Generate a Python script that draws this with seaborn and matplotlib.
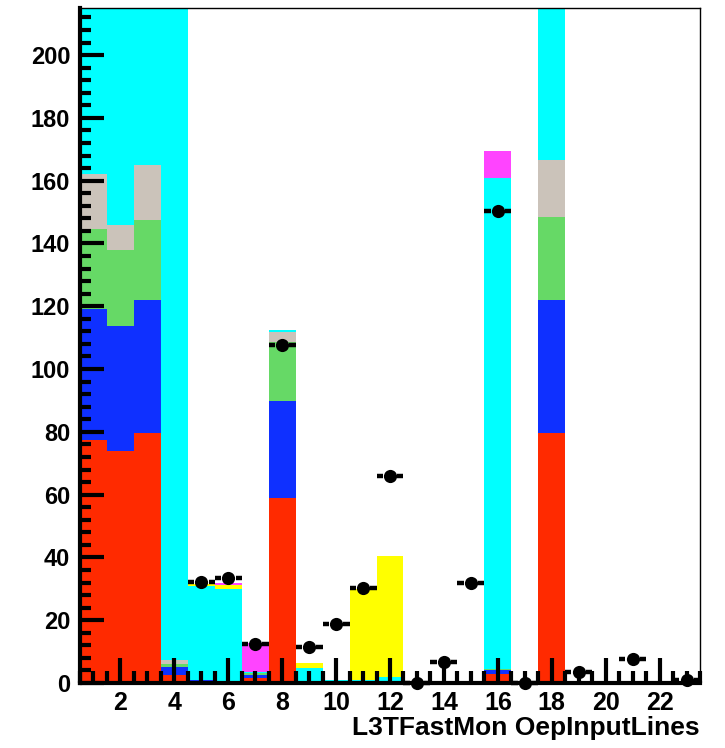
import numpy as np
import pandas as pd
import matplotlib
matplotlib.use("Agg")
import matplotlib.pyplot as plt
from matplotlib.ticker import MultipleLocator
import seaborn as sns

# ---- data (bins 1..23) ----
bins = list(range(1, 24))
red     = [77.5, 74, 79.5, 2.5, 0.3, 0, 1.5, 58.8, 0, 0, 0, 0, 0, 0, 0, 3, 0, 79.7, 0, 0, 0, 0, 0]
blue    = [41.5, 39.7, 42.5, 2.5, 0.5, 0, 1.0, 30.9, 0.3, 0, 0, 0, 0, 0, 0, 1.0, 0, 42.3, 0, 0, 0, 0, 0]
green   = [25.5, 24.3, 25.6, 1.0, 0, 0, 0.7, 18.9, 0, 0, 0, 0, 0, 0, 0, 0.5, 0, 26.3, 0, 0, 0, 0, 0]
grey    = [17.5, 8, 17.4, 1.3, 0, 0, 0, 3.1, 0, 0, 0, 0, 0, 0, 0, 0, 0, 18.2, 0, 0, 0, 0, 0]
cyan    = [140, 160, 140, 300, 30, 30, 0.3, 0.8, 4.5, 0.8, 1.0, 1.8, 0.5, 0.5, 0.5, 156.5, 0, 140, 0, 0, 0, 0, 0]
yellow  = [0, 0, 0, 0, 0.6, 1.2, 0, 0, 1.5, 0, 29, 38.5, 0, 0, 0, 0, 0.3, 0, 0, 0, 0, 0, 0]
magenta = [0, 0, 0, 0, 0, 0.8, 9.3, 0, 0, 0, 0, 0, 0, 0, 0, 8.5, 0, 0, 0, 0, 0, 0, 0]
data_pts = [np.nan, np.nan, np.nan, np.nan, 32.2, 33.5, 12.3, 107.6, 11.5, 18.7, 30.3, 66, 0, 6.7,
            31.8, 150.3, 0, np.nan, 3.5, np.nan, 7.8, np.nan, 1.0]
xticks = [2, 4, 6, 8, 10, 12, 14, 16, 18, 20, 22]
yticks = [0, 20, 40, 60, 80, 100, 120, 140, 160, 180, 200]
xlabel = "L3TFastMon OepInputLines"

components = {
    "red": red, "blue": blue, "green": green, "grey": grey,
    "cyan": cyan, "yellow": yellow, "magenta": magenta,
}
colors = {
    "red": "#ff2a00", "blue": "#0f30ff", "green": "#66d966", "grey": "#cbc3ba",
    "cyan": "#00ffff", "yellow": "#ffff00", "magenta": "#ff44ff",
}
rows = []
for name, vals in components.items():
    for b, v in zip(bins, vals):
        rows.append({"bin": b, "val": v, "comp": name})
df = pd.DataFrame(rows)

sns.set_style("white")
plt.rcParams["font.family"] = ["Liberation Sans", "DejaVu Sans"]

fig = plt.figure(figsize=(7.25, 7.48), dpi=100)
ax = fig.add_axes([80 / 725, 1 - 683 / 748, 620 / 725, 675 / 748])

sns.histplot(data=df, x="bin", weights="val", hue="comp", multiple="stack",
             discrete=True, shrink=1.0, palette=colors,
             hue_order=["magenta", "yellow", "cyan", "grey", "green", "blue", "red"],
             element="bars", linewidth=0, alpha=1.0, legend=False, ax=ax)

# data points with horizontal error bars (gap around marker)
pts = pd.DataFrame({"bin": bins, "y": data_pts}).dropna()
xb = pts["bin"].to_numpy()
yb = pts["y"].to_numpy()
ax.hlines(yb, xb - 0.5, xb - 0.27, colors="black", linewidth=3.2, zorder=5, clip_on=False)
ax.hlines(yb, xb + 0.27, xb + 0.5, colors="black", linewidth=3.2, zorder=5, clip_on=False)
sns.scatterplot(data=pts, x="bin", y="y", color="black", s=90, edgecolor="black",
                linewidth=0, zorder=6, ax=ax, clip_on=False, legend=False)

ax.set_xlim(0.5, 23.5)
ax.set_ylim(0, 215)
ax.set_xticks(xticks)
ax.set_xticklabels([str(t) for t in xticks])
ax.set_yticks(yticks)
ax.set_yticklabels([str(t) for t in yticks])
ax.xaxis.set_minor_locator(MultipleLocator(0.5))
ax.yaxis.set_minor_locator(MultipleLocator(4))
ax.set_xlabel("")
ax.set_ylabel("")
ax.set_axisbelow(False)

ax.tick_params(axis="x", which="major", direction="in", length=18, width=3,
               labelsize=18, pad=6, bottom=True, top=False, color="black",
               labelcolor="black")
ax.tick_params(axis="x", which="minor", direction="in", length=9, width=3,
               bottom=True, top=False, color="black")
ax.tick_params(axis="y", which="major", direction="in", length=17, width=3,
               labelsize=17, pad=7, left=True, right=False, color="black",
               labelcolor="black")
ax.tick_params(axis="y", which="minor", direction="in", length=8, width=3,
               left=True, right=False, color="black")
for lab in ax.get_xticklabels() + ax.get_yticklabels():
    lab.set_fontweight("bold")

for side in ["left", "bottom"]:
    ax.spines[side].set_linewidth(3)
    ax.spines[side].set_color("black")
for side in ["top", "right"]:
    ax.spines[side].set_linewidth(1)
    ax.spines[side].set_color("black")
    ax.spines[side].set_visible(True)
for sp in ax.spines.values():
    sp.set_zorder(10)

fig.text(700 / 725, 1 - 728 / 748, xlabel, ha="right", va="center",
         fontsize=19, fontweight="bold", color="black")

fig.savefig("out.png", dpi=100)
